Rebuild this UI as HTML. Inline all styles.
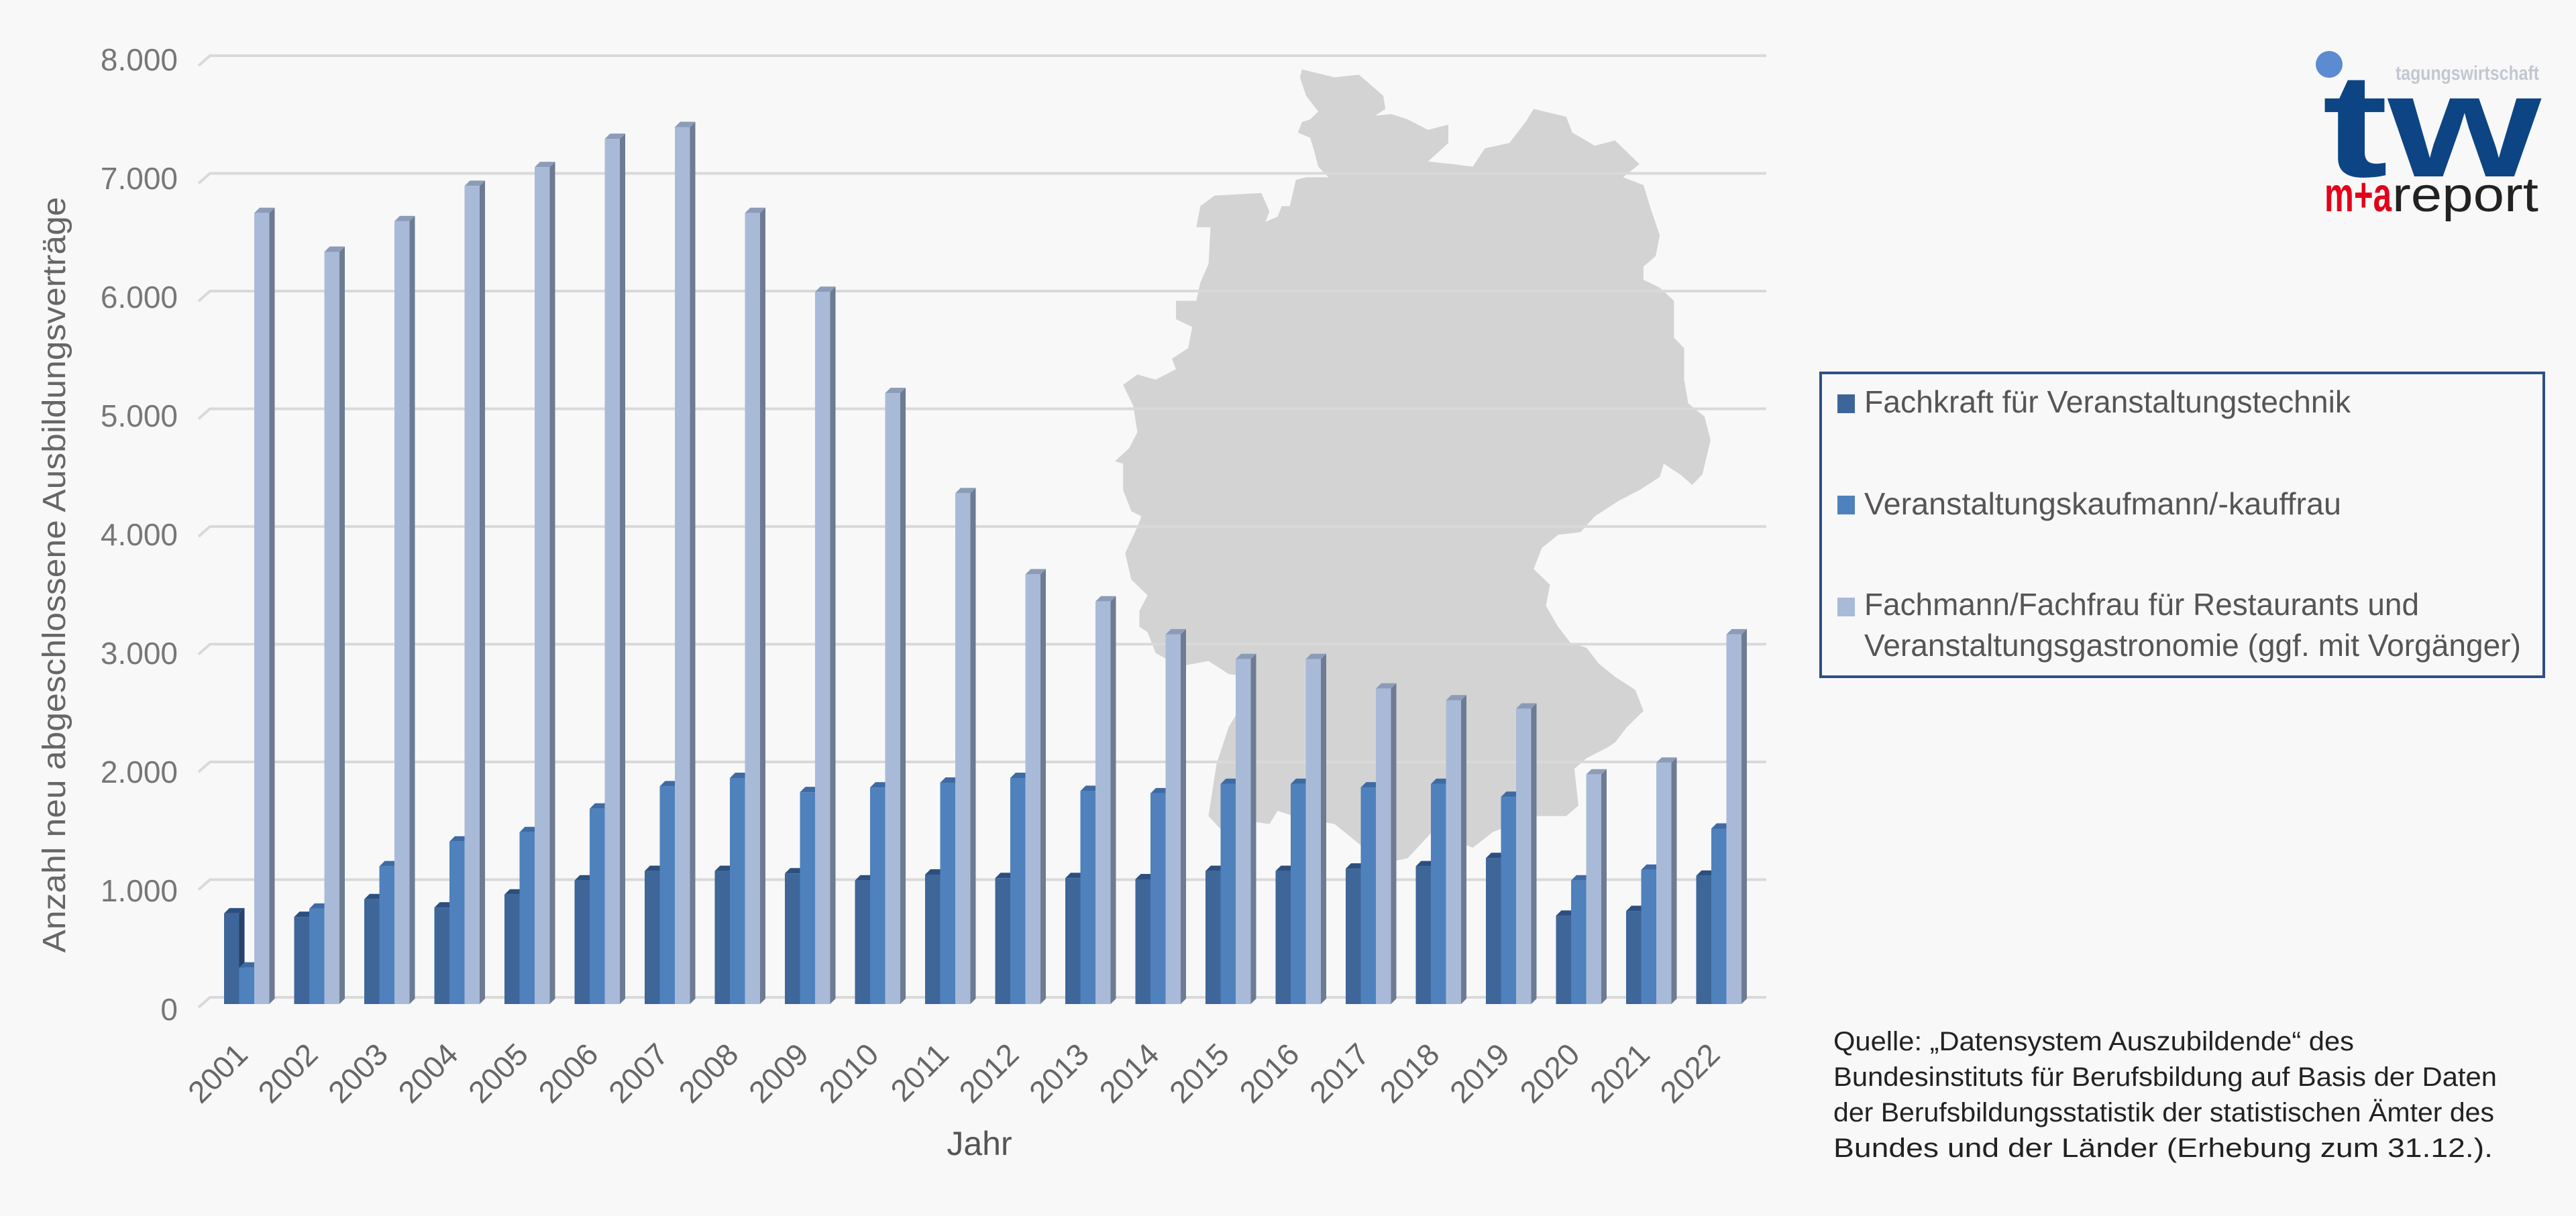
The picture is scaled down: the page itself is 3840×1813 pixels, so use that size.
<!DOCTYPE html>
<html><head><meta charset="utf-8"><style>
html,body{margin:0;padding:0;background:#f8f8f8;}
svg{display:block;}
text{font-family:"Liberation Sans",sans-serif;}
</style></head><body>
<svg width="3840" height="1813" viewBox="0 0 3840 1813" xmlns="http://www.w3.org/2000/svg">
<rect width="3840" height="1813" fill="#f8f8f8"/>
<!-- map -->
<polygon fill="#d3d3d3" transform="translate(1650,80) scale(0.606,0.784)" points="480,30 560,45 620,40 680,80 685,105 660,118 700,115 740,125 790,145 840,135 840,170 790,205 850,210 900,215 930,180 990,170 1030,130 1050,105 1130,120 1145,150 1200,175 1250,165 1310,210 1270,235 1320,250 1340,300 1360,345 1350,385 1320,405 1320,430 1360,445 1395,470 1395,540 1420,560 1420,620 1430,665 1470,690 1485,735 1465,800 1440,820 1410,800 1370,780 1360,805 1310,830 1260,850 1200,880 1165,910 1110,915 1070,940 1050,980 1090,1010 1080,1050 1110,1090 1140,1120 1180,1130 1210,1160 1250,1185 1300,1210 1320,1250 1280,1280 1250,1310 1230,1320 1180,1340 1150,1360 1160,1430 1130,1450 1050,1450 950,1480 900,1510 800,1480 740,1530 680,1540 560,1465 480,1455 420,1440 400,1465 350,1460 280,1475 250,1450 270,1350 300,1280 340,1230 360,1185 300,1180 250,1155 180,1165 120,1140 100,1100 80,1090 80,1060 100,1030 60,1000 45,950 75,900 85,880 60,870 40,830 40,780 20,775 55,750 75,720 65,670 40,630 75,610 120,620 170,600 160,580 200,560 210,520 170,505 170,470 220,470 230,435 250,400 255,330 220,330 230,290 265,270 380,265 400,300 390,320 420,310 430,290 450,290 465,240 490,235 540,235 580,240 600,280 520,215 510,185 500,160 470,150 480,130 500,125 520,110 490,80 475,45"/>
<g id="grid" stroke="#d9d9d9" stroke-width="4" fill="none"></g>
<g id="bars"></g>
<!-- y labels -->
<g fill="#777" font-size="46" text-anchor="end">
<text x="265" y="1521">0</text>
<text x="265" y="1344">1.000</text>
<text x="265" y="1167">2.000</text>
<text x="265" y="990">3.000</text>
<text x="265" y="813">4.000</text>
<text x="265" y="636">5.000</text>
<text x="265" y="459">6.000</text>
<text x="265" y="282">7.000</text>
<text x="265" y="105">8.000</text>
</g>
<text transform="translate(97,857) rotate(-90)" text-anchor="middle" font-size="48" fill="#666" textLength="1127" lengthAdjust="spacingAndGlyphs">Anzahl  neu abgeschlossene  Ausbildungsverträge</text>
<!-- years -->
<g fill="#666" font-size="46" text-anchor="end">
<text transform="translate(372,1575) rotate(-45)">2001</text>
<text transform="translate(476.5,1575) rotate(-45)">2002</text>
<text transform="translate(581,1575) rotate(-45)">2003</text>
<text transform="translate(685.5,1575) rotate(-45)">2004</text>
<text transform="translate(790,1575) rotate(-45)">2005</text>
<text transform="translate(894.5,1575) rotate(-45)">2006</text>
<text transform="translate(999,1575) rotate(-45)">2007</text>
<text transform="translate(1103.5,1575) rotate(-45)">2008</text>
<text transform="translate(1208,1575) rotate(-45)">2009</text>
<text transform="translate(1312.5,1575) rotate(-45)">2010</text>
<text transform="translate(1417,1575) rotate(-45)">2011</text>
<text transform="translate(1521.5,1575) rotate(-45)">2012</text>
<text transform="translate(1626,1575) rotate(-45)">2013</text>
<text transform="translate(1730.5,1575) rotate(-45)">2014</text>
<text transform="translate(1835,1575) rotate(-45)">2015</text>
<text transform="translate(1939.5,1575) rotate(-45)">2016</text>
<text transform="translate(2044,1575) rotate(-45)">2017</text>
<text transform="translate(2148.5,1575) rotate(-45)">2018</text>
<text transform="translate(2253,1575) rotate(-45)">2019</text>
<text transform="translate(2357.5,1575) rotate(-45)">2020</text>
<text transform="translate(2462,1575) rotate(-45)">2021</text>
<text transform="translate(2566.5,1575) rotate(-45)">2022</text>
</g>
<text x="1460" y="1722" text-anchor="middle" font-size="50" fill="#555">Jahr</text>
<!-- legend -->
<rect x="2714" y="556" width="1078" height="453" fill="none" stroke="#2f4f85" stroke-width="4"/>
<rect x="2739" y="588" width="26" height="28" fill="#3d6599"/>
<rect x="2739" y="739" width="26" height="28" fill="#4f81bd"/>
<rect x="2739" y="891" width="26" height="28" fill="#a9bad9"/>
<g fill="#555" font-size="46">
<text x="2779" y="615" textLength="725" lengthAdjust="spacingAndGlyphs">Fachkraft für Veranstaltungstechnik</text>
<text x="2779" y="767" textLength="711" lengthAdjust="spacingAndGlyphs">Veranstaltungskaufmann/-kauffrau</text>
<text x="2779" y="917" textLength="827" lengthAdjust="spacingAndGlyphs">Fachmann/Fachfrau für Restaurants und</text>
<text x="2779" y="978" textLength="979" lengthAdjust="spacingAndGlyphs">Veranstaltungsgastronomie (ggf. mit Vorgänger)</text>
</g>
<!-- source -->
<g fill="#222" font-size="40">
<text x="2733" y="1566" textLength="776" lengthAdjust="spacingAndGlyphs">Quelle: „Datensystem Auszubildende“ des</text>
<text x="2733" y="1619" textLength="989" lengthAdjust="spacingAndGlyphs">Bundesinstituts für Berufsbildung auf Basis der Daten</text>
<text x="2733" y="1672" textLength="985" lengthAdjust="spacingAndGlyphs">der Berufsbildungsstatistik der statistischen Ämter des</text>
<text x="2733" y="1725" textLength="983" lengthAdjust="spacingAndGlyphs">Bundes und der Länder (Erhebung zum 31.12.).</text>
</g>
<!-- logo -->
<circle cx="3472" cy="96" r="20" fill="#5b8bd0"/>
<text x="3785" y="119" text-anchor="end" font-size="30" font-weight="bold" fill="#c3c7d2" textLength="214" lengthAdjust="spacingAndGlyphs">tagungswirtschaft</text>
<text x="3462" y="263" font-size="220" font-weight="bold" fill="#0d4484" textLength="326" lengthAdjust="spacingAndGlyphs">tw</text>
<text x="3465" y="315" font-size="72" font-weight="bold" fill="#e2001a" textLength="100" lengthAdjust="spacingAndGlyphs">m+a</text>
<text x="3566" y="315" font-size="72" fill="#222" textLength="218" lengthAdjust="spacingAndGlyphs">report</text>
</svg>
<script>
(function(){
var NS="http://www.w3.org/2000/svg";
var g=document.getElementById("grid");
for(var k=0;k<=8;k++){var y=1487-175.5*k;
 var p=document.createElementNS(NS,"polyline");
 p.setAttribute("points",(296)+","+(y+15)+" 313,"+y+" 2633,"+y);g.appendChild(p);}
var dark=[770,740,890,820,930,1050,1130,1130,1110,1050,1100,1070,1070,1060,1130,1130,1150,1170,1240,750,790,1090];
var mid=[310,810,1170,1380,1460,1660,1850,1920,1800,1840,1880,1920,1810,1790,1870,1870,1840,1870,1760,1050,1140,1490];
var light=[6720,6390,6650,6950,7110,7350,7450,6720,6050,5190,4340,3650,3420,3140,2930,2930,2680,2580,2510,1950,2050,3140];
var b=document.getElementById("bars"),base=1497,s=0.1755,w=22.5,d=8;
function poly(pts,f){var p=document.createElementNS(NS,"polygon");p.setAttribute("points",pts.map(function(a){return a.join(",")}).join(" "));p.setAttribute("fill",f);b.appendChild(p);}
function bar(x,v,front,side,top){var y=base-v*s;
 poly([[x+w,y],[x+w+d,y-d],[x+w+d,base-d],[x+w,base]],side);
 poly([[x,y],[x+w,y],[x+w+d,y-d],[x+d,y-d]],top);
 poly([[x,y],[x+w,y],[x+w,base],[x,base]],front);}
for(var i=0;i<22;i++){var x0=334+i*104.5;
 bar(x0,dark[i],"#3e6699","#26426a","#2d4f7f");
 bar(x0+w,mid[i],"#4f81bd","#375f90","#3e6ba3");
 bar(x0+2*w,light[i],"#a9bad9","#6d7b93","#8c9cb8");}
})();
</script>
</body></html>
